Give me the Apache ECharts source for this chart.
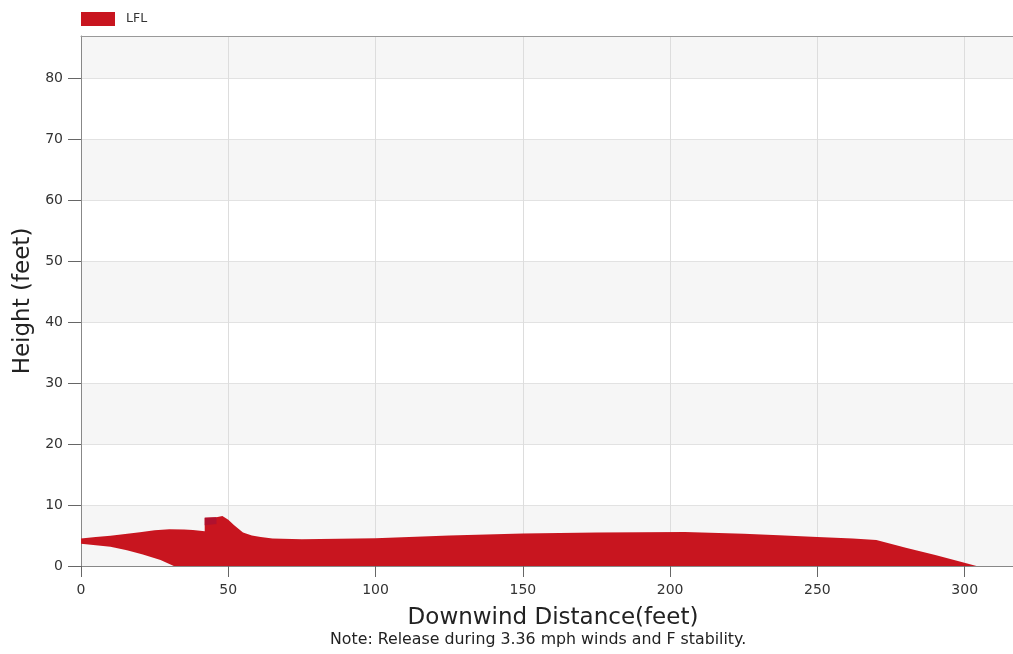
<!DOCTYPE html>
<html>
<head>
<meta charset="utf-8">
<script src="https://cdn.jsdelivr.net/npm/echarts@6/dist/echarts.min.js"></script>
<style>html,body{margin:0;padding:0;background:#fff}#c{width:1013px;height:654px}</style>
</head>
<body>
<div id="c"></div>
<script>
// Upper boundary of the LFL cloud (distance ft, height ft)
const upperEdge = [[0,4.5],[5,4.75],[10,4.95],[15,5.25],[20,5.55],[25,5.85],[30,6.05],[35,6.0],[38,5.9],[42,5.7],[42,7.9],[46,8.0],[48,8.2],[50,7.6],[52,6.7],[55,5.5],[58,5.0],[61,4.75],[65,4.5],[75,4.4],[100,4.55],[125,5.0],[150,5.35],[175,5.5],[205,5.6],[225,5.3],[237,5.05],[250,4.75],[262,4.5],[270,4.25],[280,3.0],[290,1.8],[298,0.8],[304,0]];
// Lower boundary of the LFL cloud, from far end back to the source
const lowerEdge = [[304,0],[31.5,0],[27,1.0],[21,1.9],[15.6,2.6],[10,3.15],[5,3.4],[0,3.65]];
// Small overlapping region near the source
const notch = [[42,7.9],[46,8.0],[46,6.9],[42,6.7]];
const xTicks = [0,50,100,150,200,250,300];
const yTicks = [0,10,20,30,40,50,60,70,80];

const outline = upperEdge.concat(lowerEdge);
const chart = echarts.init(document.getElementById('c'));
const font = 'DejaVu Sans, Verdana, sans-serif';
chart.setOption({
  animation: false,
  legend: {
    left: 76, top: 7, itemWidth: 34, itemHeight: 14, itemGap: 10,
    icon: 'rect',
    textStyle: {fontFamily: font, fontSize: 12.5, color: '#333', padding: [0, 0, 0, 6]},
    data: ['LFL']
  },
  grid: {left: 81, right: 0, top: 36, bottom: 88, show: false},
  xAxis: [{
    type: 'value', min: 0, max: 316.4, interval: 50,
    name: 'Downwind Distance(feet)', nameLocation: 'middle', nameGap: 41,
    nameTextStyle: {fontFamily: font, fontSize: 23, color: '#222', padding: [0, 0, 0, 12]},
    axisLine: {lineStyle: {color: '#888'}},
    axisTick: {show: true, length: 11, lineStyle: {color: '#666'}},
    axisLabel: {fontFamily: font, fontSize: 14, color: '#333', margin: 17, showMaxLabel: false,
      formatter: v => xTicks.includes(v) ? String(v) : ''},
    splitLine: {show: true, lineStyle: {color: '#ddd'}}
  }, {
    type: 'value', position: 'top', min: 0, max: 316.4, interval: 50,
    axisLine: {show: true, lineStyle: {color: '#999'}},
    axisTick: {show: false}, axisLabel: {show: false}, splitLine: {show: false}
  }],
  yAxis: {
    type: 'value', min: 0, max: 87, interval: 10,
    name: 'Height (feet)', nameLocation: 'middle', nameGap: 43,
    nameTextStyle: {fontFamily: font, fontSize: 23, color: '#222'},
    axisLine: {show: true, lineStyle: {color: '#888'}},
    axisTick: {show: true, length: 13, lineStyle: {color: '#666'}},
    axisLabel: {fontFamily: font, fontSize: 14, color: '#333', margin: 18, showMaxLabel: false,
      formatter: v => yTicks.includes(v) ? String(v) : ''},
    splitLine: {show: true, lineStyle: {color: '#e2e2e2'}},
    splitArea: {show: true, areaStyle: {color: ['#f6f6f6', '#ffffff']}}
  },
  graphic: [{
    type: 'text', left: 330, top: 632,
    style: {text: 'Note: Release during 3.36 mph winds and F stability.', font: '15.8px ' + font, fill: '#222'}
  }],
  series: [{
    name: 'LFL', type: 'custom',
    itemStyle: {color: '#c8151f'},
    data: outline,
    encode: {x: 0, y: 1},
    renderItem: function (params, api) {
      if (params.dataIndex !== 0) return null;
      return {
        type: 'group',
        children: [
          {type: 'polygon', shape: {points: outline.map(p => api.coord(p))}, style: {fill: '#c8151f'}},
          {type: 'polygon', shape: {points: notch.map(p => api.coord(p))}, style: {fill: '#b0112e'}}
        ]
      };
    }
  }]
});
</script>
</body>
</html>
